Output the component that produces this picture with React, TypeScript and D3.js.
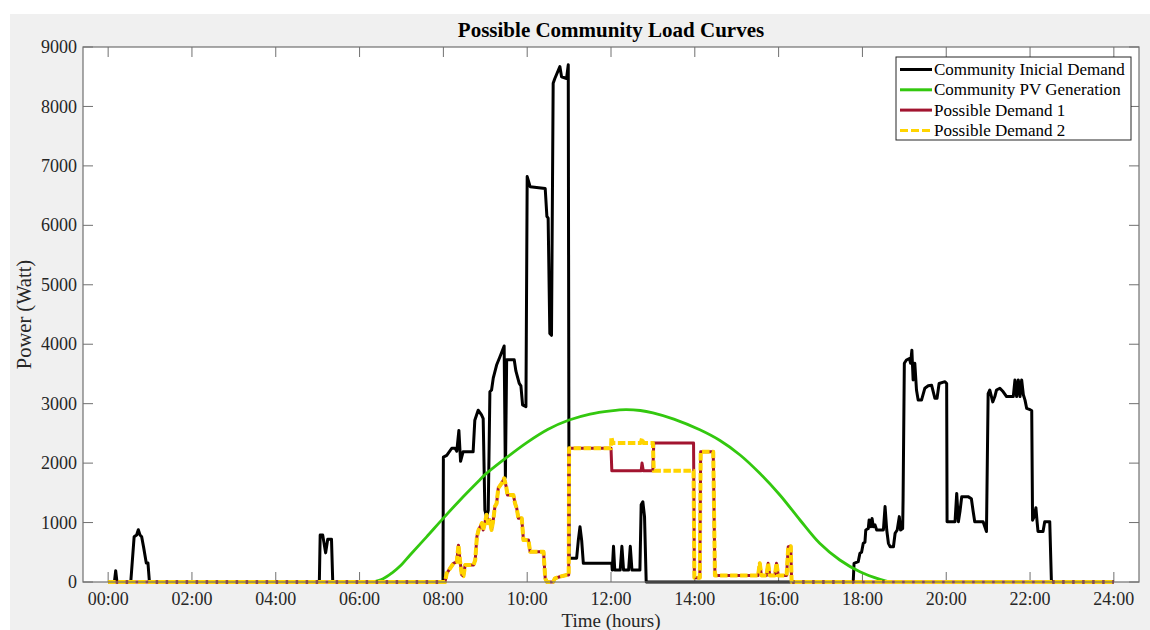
import React from "react";
import * as d3 from "d3";

// ---------- data (hours, watts) ----------
const xTickHours = [0, 2, 4, 6, 8, 10, 12, 14, 16, 18, 20, 22, 24];
const xTickLabels = ["00:00", "02:00", "04:00", "06:00", "08:00", "10:00", "12:00", "14:00", "16:00", "18:00", "20:00", "22:00", "24:00"];
const yTicks = [0, 1000, 2000, 3000, 4000, 5000, 6000, 7000, 8000, 9000];

const seriesNames = ["Community Inicial Demand", "Community PV Generation", "Possible Demand 1", "Possible Demand 2"];
const seriesColors = ["#000000", "#33c80f", "#a2142f", "#ffd400"];

const initialDemand: [number, number][] = [
  [0, 0], [0.15, 0], [0.18, 190], [0.21, 0], [0.54, 0], [0.62, 760], [0.68, 790], [0.72, 880], [0.76, 790], [0.80, 760],
  [0.85, 570], [0.91, 320], [0.95, 320], [0.985, 0], [5.04, 0], [5.06, 790], [5.12, 790], [5.19, 490], [5.24, 720],
  [5.33, 720], [5.36, 0], [7.99, 0], [8.0, 2100], [8.08, 2130], [8.2, 2250], [8.28, 2250], [8.32, 2200], [8.37, 2550],
  [8.41, 2030], [8.47, 2190], [8.71, 2190], [8.75, 2720], [8.83, 2890], [8.91, 2810], [8.95, 2750], [8.99, 1210],
  [9.03, 1100], [9.07, 1200], [9.11, 3200], [9.15, 3230], [9.19, 3430], [9.27, 3650], [9.35, 3790], [9.45, 3970],
  [9.48, 1760], [9.51, 3740], [9.69, 3740], [9.73, 3550], [9.81, 3340], [9.85, 3300], [9.89, 2980], [9.97, 2950],
  [10.0, 6820], [10.07, 6650], [10.43, 6620], [10.47, 6150], [10.5, 6120], [10.54, 4180], [10.58, 4150], [10.62, 8390],
  [10.66, 8470], [10.78, 8670], [10.82, 8500], [10.94, 8470], [10.98, 8700], [11.0, 400], [11.18, 400], [11.22, 700],
  [11.26, 930], [11.3, 700], [11.34, 314], [12.02, 314], [12.03, 200], [12.06, 600], [12.09, 200], [12.22, 200],
  [12.26, 600], [12.3, 200], [12.42, 200], [12.46, 600], [12.5, 200], [12.69, 200], [12.72, 1300], [12.76, 1350],
  [12.8, 1100], [12.84, 0], [17.78, 0], [17.8, 314], [17.9, 342], [17.94, 482], [17.98, 500], [18.02, 651], [18.06, 670],
  [18.08, 875], [18.14, 900], [18.16, 1043], [18.2, 930], [18.23, 1070], [18.26, 930], [18.3, 960], [18.34, 875],
  [18.5, 875], [18.54, 1270], [18.58, 875], [18.62, 651], [18.66, 594], [18.74, 594], [18.78, 820], [18.83, 875],
  [18.88, 1100], [18.91, 875], [18.96, 900], [18.97, 1380], [19.0, 3680], [19.05, 3735], [19.12, 3760], [19.15, 3680],
  [19.18, 3900], [19.21, 3400], [19.25, 3680], [19.29, 3230], [19.33, 3060], [19.41, 3060], [19.49, 3260], [19.57, 3300],
  [19.65, 3310], [19.73, 3090], [19.78, 3090], [19.83, 3340], [19.97, 3370], [20.01, 3340], [20.02, 1015], [20.21, 1015],
  [20.25, 1490], [20.29, 1015], [20.33, 1200], [20.37, 1436], [20.52, 1436], [20.6, 1400], [20.64, 1200], [20.68, 1015],
  [20.88, 1015], [20.96, 850], [21.0, 3170], [21.04, 3230], [21.11, 3030], [21.16, 3120], [21.2, 3230], [21.28, 3260],
  [21.36, 3200], [21.44, 3120], [21.6, 3120], [21.64, 3400], [21.68, 3120], [21.72, 3400], [21.76, 3120], [21.8, 3400],
  [21.84, 3150], [21.88, 3060], [21.92, 2920], [22.0, 2900], [22.04, 2880], [22.06, 1040], [22.1, 1100], [22.14, 1250],
  [22.17, 1000], [22.19, 850], [22.31, 850], [22.35, 1015], [22.47, 1015], [22.51, 0], [24, 0],
];

const pvGeneration: [number, number][] = [
  [6.3, 0], [6.55, 50], [6.77, 150], [7.0, 290], [7.2, 450], [7.6, 760], [8.0, 1075], [8.4, 1380], [8.83, 1690],
  [9.0, 1810], [9.5, 2090], [10.0, 2350], [10.5, 2570], [11.0, 2725], [11.5, 2826], [12.0, 2880], [12.35, 2900],
  [12.7, 2885], [13.0, 2845], [13.5, 2740], [14.12, 2560], [14.6, 2380], [15.08, 2137], [15.55, 1829], [16.03, 1464],
  [16.51, 1043], [16.98, 651], [17.46, 370], [17.94, 173], [18.42, 45], [18.66, 0],
];

const possibleDemand1: [number, number][] = [
  [0, 0], [8.04, 0], [8.08, 146], [8.16, 230], [8.24, 314], [8.32, 340], [8.36, 620], [8.4, 340], [8.44, 118], [8.48, 100],
  [8.52, 286], [8.72, 286], [8.76, 370], [8.8, 763], [8.84, 875], [8.92, 990], [8.95, 875], [8.99, 990], [9.03, 1130],
  [9.07, 990], [9.11, 1040], [9.15, 875], [9.19, 1040], [9.23, 1270], [9.27, 1320], [9.31, 1580], [9.39, 1660],
  [9.45, 1744], [9.5, 1600], [9.53, 1464], [9.67, 1464], [9.71, 1324], [9.75, 1240], [9.79, 1072], [9.87, 1072],
  [9.91, 707], [10.03, 707], [10.07, 510], [10.39, 510], [10.43, 60], [10.47, 0], [10.62, 0], [10.66, 60], [10.78, 89],
  [10.94, 118], [10.99, 118], [11.0, 2250], [12.0, 2250], [12.02, 1870], [12.72, 1870], [12.74, 2000], [12.77, 1870],
  [13.0, 1870], [13.02, 2340], [13.97, 2340], [13.99, 70], [14.12, 70], [14.14, 2190], [14.44, 2190], [14.48, 110],
  [15.51, 110], [15.55, 314], [15.59, 110], [15.71, 110], [15.75, 314], [15.79, 110], [15.91, 110], [15.95, 314],
  [15.99, 110], [16.19, 110], [16.23, 594], [16.29, 600], [16.31, 0], [24, 0],
];

const possibleDemand2: [number, number][] = [
  [0, 0], [8.04, 0], [8.08, 146], [8.16, 230], [8.24, 314], [8.32, 340], [8.36, 620], [8.4, 340], [8.44, 118], [8.48, 100],
  [8.52, 286], [8.72, 286], [8.76, 370], [8.8, 763], [8.84, 875], [8.92, 990], [8.95, 875], [8.99, 990], [9.03, 1130],
  [9.07, 990], [9.11, 1040], [9.15, 875], [9.19, 1040], [9.23, 1270], [9.27, 1320], [9.31, 1580], [9.39, 1660],
  [9.45, 1744], [9.5, 1600], [9.53, 1464], [9.67, 1464], [9.71, 1324], [9.75, 1240], [9.79, 1072], [9.87, 1072],
  [9.91, 707], [10.03, 707], [10.07, 510], [10.39, 510], [10.43, 60], [10.47, 0], [10.62, 0], [10.66, 60], [10.78, 89],
  [10.94, 118], [10.99, 118], [11.0, 2250], [12.0, 2250], [12.01, 2440], [12.04, 2340], [12.71, 2340], [12.74, 2420],
  [12.77, 2340], [13.0, 2340], [13.02, 1870], [13.97, 1870], [13.99, 70], [14.12, 70], [14.14, 2190], [14.44, 2190],
  [14.48, 110], [15.51, 110], [15.55, 314], [15.59, 110], [15.71, 110], [15.75, 314], [15.79, 110], [15.91, 110],
  [15.95, 314], [15.99, 110], [16.19, 110], [16.23, 594], [16.29, 600], [16.31, 0], [24, 0],
];

const FONT = "'Liberation Serif', 'Times New Roman', serif";

export default function App() {
  const left = 83, right = 1139, top = 47, bottom = 582;
  const x = d3.scaleLinear().domain([-0.6, 24.6]).range([left, right]);
  const y = d3.scaleLinear().domain([0, 9000]).range([bottom, top]);
  const stepLine = d3.line<[number, number]>().x((d) => x(d[0])).y((d) => y(d[1]));
  const smoothLine = d3
    .line<[number, number]>()
    .x((d) => x(d[0]))
    .y((d) => y(d[1]))
    .curve(d3.curveCatmullRom.alpha(0.5));

  const axisColor = "#707070";
  const textColor = "#262626";
  const tickLen = 10;

  const legX = 896, legY = 57, legW = 235, legH = 83;
  const rowY = [69.5, 89.8, 110.1, 130.4];

  return (
    <svg width={1150} height={630} style={{ position: "absolute", left: 0, top: 0 }} fontFamily={FONT}>
      <rect x={0} y={0} width={1150} height={630} fill="#ffffff" />
      <rect x={10} y={14} width={1140} height={616} fill="#f0f0f0" />
      <rect x={left} y={top} width={right - left} height={bottom - top} fill="#ffffff" />

      {/* title */}
      <text x={(left + right) / 2} y={37} textAnchor="middle" fontSize={21} fontWeight="bold" fill="#000">
        Possible Community Load Curves
      </text>

      {/* ticks */}
      {xTickHours.map((h, i) => (
        <g key={"xt" + i}>
          <line x1={x(h)} x2={x(h)} y1={bottom} y2={bottom - tickLen} stroke={axisColor} strokeWidth={1} />
          <line x1={x(h)} x2={x(h)} y1={top} y2={top + tickLen} stroke={axisColor} strokeWidth={1} />
          <text x={x(h)} y={605} textAnchor="middle" fontSize={18} fill={textColor}>
            {xTickLabels[i]}
          </text>
        </g>
      ))}
      {yTicks.map((v, i) => (
        <g key={"yt" + i}>
          <line x1={left} x2={left + tickLen} y1={y(v)} y2={y(v)} stroke={axisColor} strokeWidth={1} />
          <line x1={right} x2={right - tickLen} y1={y(v)} y2={y(v)} stroke={axisColor} strokeWidth={1} />
          <text x={77} y={y(v)} dy="0.34em" textAnchor="end" fontSize={18} fill={textColor}>
            {v}
          </text>
        </g>
      ))}

      {/* series */}
      <path d={stepLine(initialDemand) || ""} fill="none" stroke={seriesColors[0]} strokeWidth={3} strokeLinejoin="round" />
      <path d={smoothLine(pvGeneration) || ""} fill="none" stroke={seriesColors[1]} strokeWidth={2.8} />
      <path d={stepLine(possibleDemand1) || ""} fill="none" stroke={seriesColors[2]} strokeWidth={3} strokeLinejoin="round" />
      <path d={stepLine(possibleDemand2) || ""} fill="none" stroke={seriesColors[3]} strokeWidth={4} strokeDasharray="7.5,2.5" strokeLinejoin="round" />

      {/* axes box */}
      <rect x={left} y={top} width={right - left} height={bottom - top} fill="none" stroke={axisColor} strokeWidth={1.2} />

      {/* axis labels */}
      <text x={(left + right) / 2} y={627} textAnchor="middle" fontSize={19} fill={textColor}>
        Time (hours)
      </text>
      <text transform={`translate(31, ${(top + bottom) / 2}) rotate(-90)`} textAnchor="middle" fontSize={20.5} fill={textColor}>
        Power (Watt)
      </text>

      {/* legend */}
      <rect x={legX} y={legY} width={legW} height={legH} fill="#ffffff" stroke={textColor} strokeWidth={1} />
      {seriesNames.map((name, i) => (
        <g key={"lg" + i}>
          <line
            x1={900}
            x2={932}
            y1={rowY[i]}
            y2={rowY[i]}
            stroke={seriesColors[i]}
            strokeWidth={3}
            strokeDasharray={i === 3 ? "8,3" : undefined}
          />
          <text x={934} y={rowY[i]} dy="0.33em" fontSize={17} fill="#000">
            {name}
          </text>
        </g>
      ))}
    </svg>
  );
}
